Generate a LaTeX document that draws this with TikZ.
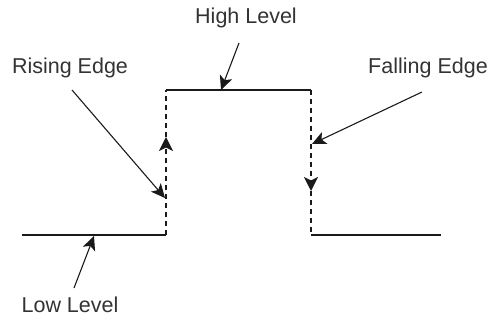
\documentclass[tikz,border=0pt]{standalone}
\usepackage{fontspec}
\setmainfont{Liberation Sans}
\usetikzlibrary{positioning,arrows.meta,calc}
\definecolor{ink}{HTML}{1A1A1A}
\definecolor{labelgray}{HTML}{333333}
\tikzset{
  label/.style={text=labelgray, font=\fontsize{21.5}{25}\selectfont, inner sep=0pt},
  signal/.style={draw=ink, line width=1.4pt},
  edgeline/.style={draw=ink, line width=1.4pt, dash pattern=on 5pt off 4pt},
  pointer/.style={-{Stealth[length=14pt,width=13pt,inset=3.5pt]}, draw=ink, line width=1.1pt},
  midtip/.style={-{Stealth[length=14pt,width=14pt,inset=3.5pt]}, draw=ink, line width=1.4pt, dash pattern=on 5pt off 4pt}
}
\begin{document}
\begin{tikzpicture}[x=1pt,y=-1pt]
\useasboundingbox (0,0) rectangle (489,321);
% waveform corners
\coordinate (lowA) at (22,235);
\coordinate (riseL) at (166,235);
\coordinate (riseH) at (166,90);
\coordinate (fallH) at (311,90);
\coordinate (fallL) at (311,235);
\coordinate (lowB) at (441,235);
\coordinate (riseMid) at (166,137);
\coordinate (fallMid) at (311,191);

\draw[signal] (lowA) -- (riseL);
\draw[midtip] (riseL) -- (riseMid);
\draw[edgeline] (riseMid) -- (riseH);
\draw[signal] (riseH) -- (fallH);
\draw[midtip] (fallH) -- (fallMid);
\draw[edgeline] (fallMid) -- (fallL);
\draw[signal] (fallL) -- (lowB);

% labels
\node[label] (high) at (246,18) {High Level};
\node[label] (rising) at (70,68) {Rising Edge};
\node[label] (falling) at (428,68) {Falling Edge};
\node[label] (low) at (70,305) {Low Level};

% pointers
\coordinate (highFrom) at (239,43);
\coordinate (highTo) at (221,90);
\coordinate (risingFrom) at (72,90);
\coordinate (risingTo) at (165,198);
\coordinate (fallingFrom) at (422,92);
\coordinate (fallingTo) at (312,144);
\coordinate (lowFrom) at (74,288);
\coordinate (lowTo) at (94,236);

\draw[pointer] (highFrom) -- (highTo);
\draw[pointer] (risingFrom) -- (risingTo);
\draw[pointer] (fallingFrom) -- (fallingTo);
\draw[pointer] (lowFrom) -- (lowTo);
\end{tikzpicture}
\end{document}
